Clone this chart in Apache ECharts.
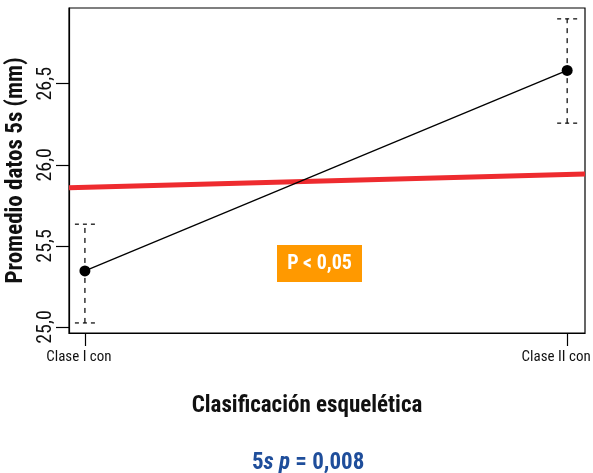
<!DOCTYPE html>
<html><head><meta charset="utf-8">
<script src="https://cdn.jsdelivr.net/npm/echarts@6/dist/echarts.min.js"></script>
<style>html,body{margin:0;padding:0;background:#fff}#c{width:593px;height:473px}</style>
</head><body><div id="c"></div>
<script>
var FONT = "'Liberation Sans Narrow','Roboto Condensed','Arial Narrow','Liberation Sans',sans-serif";
var categories = ['Clase I con', 'Clase II con'];
var catPos = [1, 2];
var means = [25.346, 26.582];
var lower = [25.025, 26.257];
var upper = [25.634, 26.90];
var refLine = [25.858, 25.944];
var yTicks = [25.0, 25.5, 26.0, 26.5];
var xMin = 0.967, xMax = 2.037;
var yMin = 24.963, yMax = 26.967;

var chart = echarts.init(document.getElementById('c'));
chart.setOption({
  animation: false,
  grid: {left: 69, top: 8, right: 8, bottom: 140, outerBoundsMode: 'none', containLabel: false,
    show: true, borderColor: '#000', borderWidth: 1.2, backgroundColor: 'transparent'},
  title: {
    text: '{n|5}{i|s p}{n| = 0,008}',
    left: 247, top: 447,
    textStyle: {rich: {
      n: {fontFamily: FONT, fontWeight: 'bold', fontSize: 23, color: '#1F4E9B'},
      i: {fontFamily: FONT, fontWeight: 'bold', fontStyle: 'italic', fontSize: 23, color: '#1F4E9B'}
    }}
  },
  xAxis: {
    type: 'value', min: xMin, max: xMax,
    name: 'Clasificación esquelética', nameLocation: 'middle', nameGap: 62,
    nameTextStyle: {fontFamily: FONT, fontWeight: 'bold', fontSize: 23, color: '#111', padding: [0, 40, 0, 0]},
    axisLine: {show: true, onZero: false, lineStyle: {color: '#000', width: 1.2}},
    axisTick: {show: true, length: 13, customValues: catPos, lineStyle: {color: '#000', width: 1.2}},
    axisLabel: {customValues: catPos, margin: 17, color: '#111',
      formatter: function (v) { var i = catPos.indexOf(v); return i === 0 ? '{a|' + categories[0] + '}' : (i === 1 ? '{b|' + categories[1] + '}' : ''); },
      rich: {
        a: {fontFamily: FONT, fontSize: 15, color: '#111', padding: [0, 12, 0, 0]},
        b: {fontFamily: FONT, fontSize: 15, color: '#111', padding: [0, 22, 0, 0]}
      }},
    splitLine: {show: false}
  },
  yAxis: {
    type: 'value', min: yMin, max: yMax,
    name: 'Promedio datos 5s (mm)', nameLocation: 'middle', nameGap: 37, nameRotate: 90,
    nameTextStyle: {fontFamily: FONT, fontWeight: 'bold', fontSize: 23, color: '#111'},
    axisLine: {show: true, onZero: false, lineStyle: {color: '#000', width: 1.2}},
    axisTick: {show: true, length: 13, customValues: yTicks, lineStyle: {color: '#000', width: 1.2}},
    axisLabel: {customValues: yTicks, rotate: 90, margin: 13, fontFamily: FONT, fontSize: 20, color: '#111',
      formatter: function (v) { return v.toFixed(1).replace('.', ','); }},
    splitLine: {show: false}
  },
  series: [
    {
      type: 'line', data: [[xMin, refLine[0]], [xMax, refLine[1]]],
      showSymbol: false, symbol: 'none', lineStyle: {color: '#EE2B2F', width: 5}, z: 2
    },
    {
      type: 'custom', z: 3,
      data: catPos.map(function (x, i) { return [x, lower[i], upper[i]]; }),
      renderItem: function (params, api) {
        var lo = api.coord([api.value(0), api.value(1)]);
        var hi = api.coord([api.value(0), api.value(2)]);
        var w = 10;
        var st = {stroke: '#000', lineWidth: 1.2, lineDash: [5, 5]};
        return {type: 'group', children: [
          {type: 'line', shape: {x1: lo[0], y1: lo[1], x2: hi[0], y2: hi[1]}, style: st},
          {type: 'line', shape: {x1: lo[0] - w, y1: lo[1], x2: lo[0] + w, y2: lo[1]}, style: {stroke: '#000', lineWidth: 1.2, lineDash: [4, 4]}},
          {type: 'line', shape: {x1: hi[0] - w, y1: hi[1], x2: hi[0] + w, y2: hi[1]}, style: {stroke: '#000', lineWidth: 1.2, lineDash: [4, 4]}}
        ]};
      }
    },
    {
      type: 'line', data: catPos.map(function (x, i) { return [x, means[i]]; }),
      symbol: 'circle', symbolSize: 11, itemStyle: {color: '#000'},
      lineStyle: {color: '#000', width: 1.3}, z: 4
    }
  ],
  graphic: [
    {type: 'rect', x: 277, y: 245, shape: {x: 0, y: 0, width: 85, height: 37}, style: {fill: '#FF9900'}, z: 10},
    {type: 'text', x: 319.5, y: 264, z: 11,
      style: {text: 'P < 0,05', fill: '#fff', font: 'bold 20px ' + FONT, align: 'center', verticalAlign: 'middle'}}
  ]
});
</script></body></html>
